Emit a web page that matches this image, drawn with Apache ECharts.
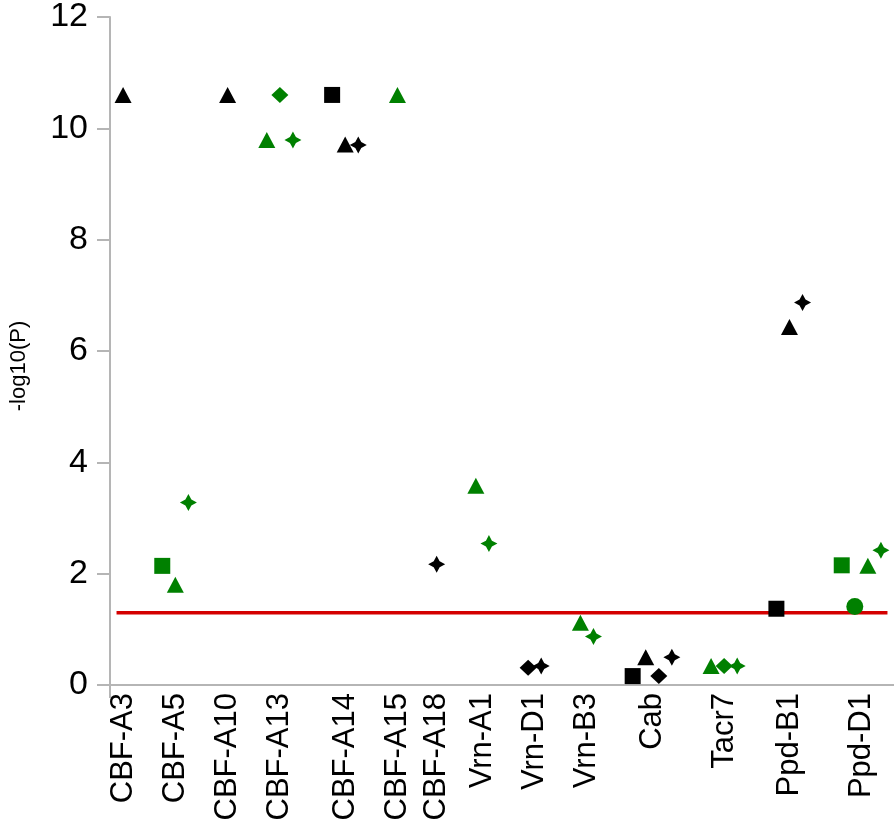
<!DOCTYPE html>
<html>
<head>
<meta charset="utf-8">
<script src="https://cdn.jsdelivr.net/npm/echarts@6/dist/echarts.min.js"></script>
<style>
html,body{margin:0;padding:0;background:#fff;}
#chart{width:894px;height:824px;}
</style>
</head>
<body>
<div id="chart"></div>
<script>
// ---- data ----
const genes = ['CBF-A3','CBF-A5','CBF-A10','CBF-A13','CBF-A14','CBF-A15','CBF-A18','Vrn-A1','Vrn-D1','Vrn-B3','Cab','Tacr7','Ppd-B1','Ppd-D1'];
const greenGroup = [false,true,false,true,false,true,false,true,false,true,false,true,false,true];
// -log10(P) per marker type (null = not present), aligned with genes
const squareVals   = [null, 2.14, null, null, 10.6, null, null, null, null, null, 0.16, null, 1.37, 2.15];
const circleVals   = [null, null, null, null, null, null, null, null, null, null, null, null, null, 1.41];
const triangleVals = [10.6, 1.80, 10.6, 9.79, 9.71, 10.6, null, 3.58, null, 1.12, 0.50, 0.34, 6.43, 2.14];
const diamondVals  = [null, null, null, 10.6, null, null, null, null, 0.31, null, 0.16, 0.34, null, null];
const crossVals    = [null, 3.28, null, 9.79, 9.70, null, 2.17, 2.54, 0.34, 0.87, 0.50, 0.34, 6.87, 2.42];
const threshold = 1.3;
const yTicks = [0, 2, 4, 6, 8, 10, 12];

// ---- layout of markers along x (consecutive slots, gap between genes) ----
const shapeKeys = ['square','circle','triangle','diamond','cross'];
const valsByShape = {square: squareVals, circle: circleVals, triangle: triangleVals, diamond: diamondVals, cross: crossVals};
const symbolFor = {
  square: {symbol: 'rect', size: 16},
  circle: {symbol: 'circle', size: 17},
  triangle: {symbol: 'triangle', size: [17, 16]},
  diamond: {symbol: 'diamond', size: [17, 16]},
  cross: {symbol: 'path://M8,0 L10.8,5.2 L16,8 L10.8,10.8 L8,16 L5.2,10.8 L0,8 L5.2,5.2 Z', size: [17, 17]}
};
const GAP = 3;
const seriesData = {square: [], circle: [], triangle: [], diamond: [], cross: []};
const groupCenters = [];
let slot = 0;
genes.forEach((g, i) => {
  const used = [];
  shapeKeys.forEach(k => {
    const v = valsByShape[k][i];
    if (v !== null && v !== undefined) {
      seriesData[k].push({value: [slot, v], itemStyle: {color: greenGroup[i] ? '#008000' : '#000000', opacity: 1}});
      used.push(slot);
      slot += 1;
    }
  });
  groupCenters.push((used[0] + used[used.length - 1]) / 2);
  slot += GAP - 1;
});
const lastSlot = slot - GAP;
const centerToGene = {};
groupCenters.forEach((c, i) => { centerToGene[c] = genes[i]; });

const FONT = '"Liberation Sans", Arial, sans-serif';
const AXIS_GREY = '#b5b5b5';

const series = shapeKeys.map(k => ({
  type: 'scatter',
  name: k,
  symbol: symbolFor[k].symbol,
  symbolSize: symbolFor[k].size,
  itemStyle: {opacity: 1},
  data: seriesData[k],
  z: 3
}));
series.unshift({
  type: 'line',
  name: 'threshold',
  data: [[-0.5, threshold], [lastSlot + 0.5, threshold]],
  symbol: 'none',
  lineStyle: {color: '#d40000', width: 3.5},
  z: 2,
  silent: true
});

const chart = echarts.init(document.getElementById('chart'), null, {renderer: 'canvas'});
chart.setOption({
  animation: false,
  backgroundColor: '#ffffff',
  grid: {left: 107, right: 0, top: 11, bottom: 139, containLabel: false},
  xAxis: {
    type: 'value',
    min: -1,
    max: lastSlot + 1,
    splitLine: {show: false},
    axisLine: {show: true, onZero: false, lineStyle: {color: AXIS_GREY, width: 2}},
    axisTick: {show: true, customValues: [-1], length: 13, lineStyle: {color: AXIS_GREY, width: 2}},
    axisLabel: {
      show: true,
      customValues: groupCenters,
      rotate: 90,
      margin: 8,
      fontSize: 31,
      fontFamily: FONT,
      color: '#000',
      formatter: v => centerToGene[v] || ''
    }
  },
  yAxis: {
    type: 'value',
    min: yTicks[0],
    max: yTicks[yTicks.length - 1],
    interval: yTicks[1] - yTicks[0],
    name: '-log10(P)',
    nameLocation: 'middle',
    nameRotate: 90,
    nameGap: 80,
    nameTextStyle: {fontSize: 22, fontFamily: FONT, color: '#000', padding: [0, 30, 0, 0]},
    splitLine: {show: false},
    axisLine: {show: true, onZero: false, lineStyle: {color: AXIS_GREY, width: 2}},
    axisTick: {show: true, length: 13, lineStyle: {color: AXIS_GREY, width: 2}},
    axisLabel: {fontSize: 34, fontFamily: FONT, color: '#000', margin: 22}
  },
  series: series
});
</script>
</body>
</html>
